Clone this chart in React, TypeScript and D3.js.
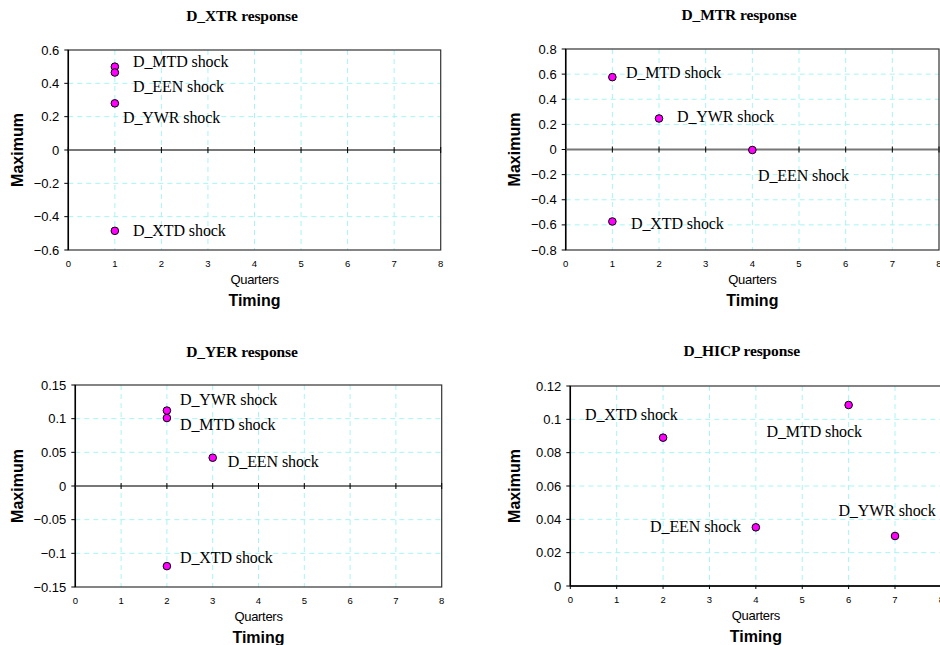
import * as d3 from 'd3';

// Shocks shared by all four panels
const shocks = ['D_MTD', 'D_EEN', 'D_YWR', 'D_XTD'];

// Timing (quarter of the maximum) per shock, per response
const xtrTiming = [1, 1, 1, 1];
const xtrMax = [0.5, 0.465, 0.28, -0.485];
const xtrLabelX = [1.39, 1.39, 1.175, 1.39];
const xtrLabelY = [0.532, 0.382, 0.196, -0.482];

const mtrTiming = [1, 4, 2, 1];
const mtrMax = [0.576, -0.004, 0.247, -0.573];
const mtrLabelX = [1.29, 4.12, 2.385, 1.4];
const mtrLabelY = [0.613, -0.207, 0.263, -0.589];

const yerTiming = [2, 3, 2, 2];
const yerMax = [0.101, 0.042, 0.112, -0.119];
const yerLabelX = [2.286, 3.33, 2.286, 2.286];
const yerLabelY = [0.091, 0.0365, 0.128, -0.106];

const hicpTiming = [6, 4, 7, 2];
const hicpMax = [0.1086, 0.0352, 0.03, 0.089];
const hicpLabelX = [4.23, 1.72, 5.78, 0.317];
const hicpLabelY = [0.093, 0.036, 0.0452, 0.1032];

const xTicks = [0, 1, 2, 3, 4, 5, 6, 7, 8];
const xtrTicks = [-0.6, -0.4, -0.2, 0, 0.2, 0.4, 0.6];
const mtrTicks = [-0.8, -0.6, -0.4, -0.2, 0, 0.2, 0.4, 0.6, 0.8];
const yerTicks = [-0.15, -0.1, -0.05, 0, 0.05, 0.1, 0.15];
const hicpTicks = [0, 0.02, 0.04, 0.06, 0.08, 0.1, 0.12];

const serif = '"Liberation Serif", "Times New Roman", serif';
const sans = '"Liberation Sans", Arial, sans-serif';

interface PanelProps {
  title: string;
  titleX: number;
  titleY: number;
  box: { left: number; right: number; top: number; bottom: number };
  labelX: number;
  yTicks: number[];
  timing: number[];
  maxima: number[];
  lx: number[];
  ly: number[];
}

function Panel({ title, titleX, titleY, box, labelX, yTicks, timing, maxima, lx, ly }: PanelProps) {
  const x = d3.scaleLinear().domain([0, 8]).range([box.left, box.right]);
  const y = d3.scaleLinear()
    .domain([yTicks[0], yTicks[yTicks.length - 1]])
    .range([box.bottom, box.top]);
  const zeroY = y(0);
  const midX = (box.left + box.right) / 2;
  const midY = (box.top + box.bottom) / 2;

  return (
    <g>
      <text x={titleX} y={titleY} textAnchor="middle" fontFamily={serif} fontWeight="bold" fontSize={15.5}
        letterSpacing={-0.1}>{title}</text>

      {/* grid */}
      {xTicks.slice(1, -1).map(t => (
        <line key={'gx' + t} x1={x(t)} x2={x(t)} y1={box.top} y2={box.bottom}
          stroke="#a8f4f4" strokeDasharray="5,4" />
      ))}
      {yTicks.slice(1, -1).filter(t => t !== 0).map(t => (
        <line key={'gy' + t} x1={box.left} x2={box.right} y1={y(t)} y2={y(t)}
          stroke="#a8f4f4" strokeDasharray="5,4" />
      ))}

      {/* frame */}
      <rect x={box.left} y={box.top} width={box.right - box.left} height={box.bottom - box.top}
        fill="none" stroke="#333" strokeWidth={1.2} />
      <line x1={box.left} x2={box.left} y1={box.top} y2={box.bottom} stroke="#000" strokeWidth={1.5} />
      <line x1={box.left} x2={box.right} y1={zeroY} y2={zeroY}
        stroke={zeroY === box.bottom ? '#000' : '#777'} strokeWidth={zeroY === box.bottom ? 1.5 : 2} />

      {/* y ticks */}
      {yTicks.map(t => (
        <g key={'yt' + t}>
          <line x1={box.left - 4} x2={box.left} y1={y(t)} y2={y(t)} stroke="#000" />
          <text x={box.left - 9} y={y(t) + 4.5} textAnchor="end" fontFamily={sans} fontSize={13}>
            {d3.format('~g')(t)}
          </text>
        </g>
      ))}

      {/* x ticks on the zero line, labels below the plot */}
      {xTicks.map(t => (
        <g key={'xt' + t}>
          <line x1={x(t)} x2={x(t)} y1={zeroY - (zeroY === box.bottom ? 0 : 3)} y2={zeroY + 3} stroke="#000" />
          <text x={x(t)} y={box.bottom + 16.5} textAnchor="middle" fontFamily={sans} fontSize={9.5}>{t}</text>
        </g>
      ))}

      <text x={midX} y={box.bottom + 33.5} textAnchor="middle" fontFamily={sans} fontSize={13}
        letterSpacing={-0.3}>Quarters</text>
      <text x={midX} y={box.bottom + 56} textAnchor="middle" fontFamily={sans} fontWeight="bold" fontSize={16}>
        Timing
      </text>
      <text transform={`translate(${labelX},${midY}) rotate(-90)`} textAnchor="middle"
        fontFamily={sans} fontWeight="bold" fontSize={16}>Maximum</text>

      {/* points */}
      {shocks.map((s, i) => (
        <g key={s}>
          <circle cx={x(timing[i])} cy={y(maxima[i])} r={3.8} fill="#ff00ff" stroke="#000" strokeWidth={1} />
          <text x={x(lx[i])} y={y(ly[i])} dy="0.35em" fontFamily={serif} fontSize={16} letterSpacing={-0.1}>
            {s} shock
          </text>
        </g>
      ))}
    </g>
  );
}

export default function App() {
  return (
    <div style={{ position: 'absolute', left: 0, top: 0 }}>
      <svg width={940} height={645} style={{ display: 'block', background: '#fff' }}>
        <Panel title="D_XTR response" titleX={242} titleY={21}
          box={{ left: 68.3, right: 440.7, top: 50, bottom: 250 }} labelX={23}
          yTicks={xtrTicks} timing={xtrTiming} maxima={xtrMax} lx={xtrLabelX} ly={xtrLabelY} />
        <Panel title="D_MTR response" titleX={739} titleY={20}
          box={{ left: 565.7, right: 939, top: 49, bottom: 250 }} labelX={520}
          yTicks={mtrTicks} timing={mtrTiming} maxima={mtrMax} lx={mtrLabelX} ly={mtrLabelY} />
        <Panel title="D_YER response" titleX={242} titleY={356.5}
          box={{ left: 75.3, right: 441.7, top: 385, bottom: 587 }} labelX={23}
          yTicks={yerTicks} timing={yerTiming} maxima={yerMax} lx={yerLabelX} ly={yerLabelY} />
        <Panel title="D_HICP response" titleX={741.7} titleY={356}
          box={{ left: 570.3, right: 941.4, top: 386, bottom: 586 }} labelX={520}
          yTicks={hicpTicks} timing={hicpTiming} maxima={hicpMax} lx={hicpLabelX} ly={hicpLabelY} />
      </svg>
    </div>
  );
}
